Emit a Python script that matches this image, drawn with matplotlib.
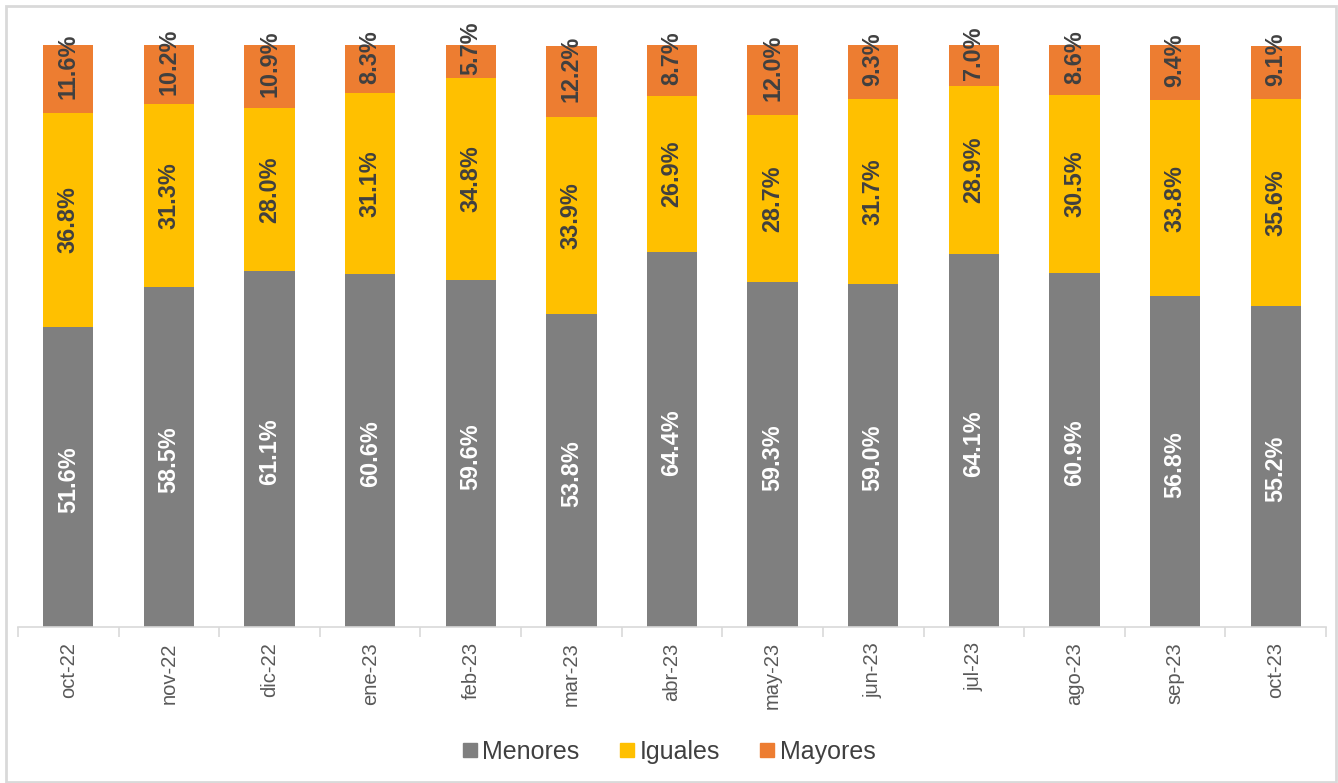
import numpy as np
import matplotlib
matplotlib.use("Agg")
import matplotlib.pyplot as plt
from matplotlib.lines import Line2D
from matplotlib.patches import Rectangle

plt.rcParams["font.family"] = ["Liberation Sans", "DejaVu Sans"]

meses = ["oct-22", "nov-22", "dic-22", "ene-23", "feb-23", "mar-23", "abr-23",
         "may-23", "jun-23", "jul-23", "ago-23", "sep-23", "oct-23"]
menores = [51.6, 58.5, 61.1, 60.6, 59.6, 53.8, 64.4, 59.3, 59.0, 64.1, 60.9, 56.8, 55.2]
iguales = [36.8, 31.3, 28.0, 31.1, 34.8, 33.9, 26.9, 28.7, 31.7, 28.9, 30.5, 33.8, 35.6]
mayores = [11.6, 10.2, 10.9, 8.3, 5.7, 12.2, 8.7, 12.0, 9.3, 7.0, 8.6, 9.4, 9.1]

# nombre, valores, color de barra, color de etiqueta, desplazamiento vertical (pt)
series = [("Menores", menores, "#7F7F7F", "white", -2),
          ("Iguales", iguales, "#FFC000", "#404040", 0),
          ("Mayores", mayores, "#ED7D31", "#404040", 9)]

W, H = 1338, 783
fig = plt.figure(figsize=(W / 100, H / 100), dpi=100)
fig.patch.set_facecolor("white")
ax = fig.add_axes([18 / W, 1 - 627 / H, (1326 - 18) / W, (627 - 45) / H])

x = np.arange(len(meses))
base = np.zeros(len(meses))
handles = []
for nombre, vals, color, tcolor, dy in series:
    vals = np.array(vals)
    ax.bar(x, vals, bottom=base, width=0.5, color=color, edgecolor="none")
    for xi, b, v in zip(x, base, vals):
        ax.annotate(f"{v:.1f}%", (xi, b + v / 2), xytext=(0, dy),
                    textcoords="offset points", rotation=90, ha="center",
                    va="center", fontsize=16.8, fontweight="bold", color=tcolor)
    base = base + vals
    handles.append(Line2D([], [], marker="s", linestyle="none", markersize=10,
                          markerfacecolor=color, markeredgecolor=color, label=nombre))

ax.set_xlim(-0.5, len(meses) - 0.5)
ax.set_ylim(0, 100)
for s in ("top", "right", "left"):
    ax.spines[s].set_visible(False)
ax.spines["bottom"].set_color("#D9D9D9")
ax.spines["bottom"].set_linewidth(1.2)
ax.set_yticks([])
ax.set_xticks(x)
ax.set_xticklabels(meses, rotation=90, fontsize=14.5, color="#595959")
ax.tick_params(axis="x", which="major", length=0, pad=11)
ax.set_xticks(np.arange(-0.5, len(meses)), minor=True)
ax.tick_params(axis="x", which="minor", length=7, color="#D9D9D9", width=1.2)

fig.legend(handles=handles, loc="center", bbox_to_anchor=(0.5, 1 - 752 / H),
           ncol=3, frameon=False, fontsize=18, handlelength=0.6,
           handletextpad=0.2, columnspacing=1.6, labelcolor="#404040")

fig.add_artist(Rectangle((6 / W, 1 / H), (1336 - 6) / W, (782 - 6) / H,
                         transform=fig.transFigure, fill=False,
                         edgecolor="#D9D9D9", linewidth=2))

fig.savefig("out.png", dpi=100, facecolor="white")
